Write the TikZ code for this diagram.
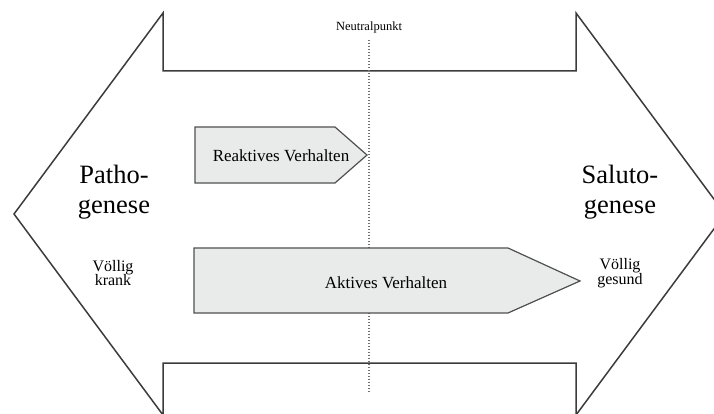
\documentclass[tikz,border=0pt]{standalone}
\usepackage{fontspec}
\setmainfont{Liberation Serif}
\definecolor{edge}{HTML}{3C3C3C}
\definecolor{boxfill}{HTML}{E9EBEB}
\definecolor{dotgray}{HTML}{707070}
\begin{document}
\begin{tikzpicture}[x=1pt,y=-1pt,
  outline/.style={draw=edge,line width=1.5pt,line join=miter},
  pointer/.style={draw=edge!90,fill=boxfill,line width=1.2pt},
  neutral/.style={draw=dotgray,line width=1.3pt,dash pattern=on 1.3pt off 1.7pt},
  bigtext/.style={font=\fontsize{26.5}{30}\selectfont,anchor=base,inner sep=0pt},
  smalltext/.style={font=\fontsize{16}{15}\selectfont,anchor=base,inner sep=0pt},
  labeltext/.style={font=\fontsize{17}{20}\selectfont,anchor=base,inner sep=0pt}]
\useasboundingbox (0,0) rectangle (714,414);
\clip (0,0) rectangle (714,414);

% double-headed arrow between the two poles
\draw[outline,fill=white] (14,214) -- (163,13) -- (163,71) -- (576,71) -- (576,13)
  -- (725,214) -- (576,415) -- (576,363) -- (163,363) -- (163,415) -- cycle;

% neutral point
\node[font=\fontsize{12.5}{14}\selectfont,anchor=base,inner sep=0pt] (np) at (369,31) {Neutralpunkt};
\coordinate (npend) at (369,393);
\draw[neutral] (369,40) -- (npend);

% behaviour pointers
\draw[pointer] (195,127) -- (335,127) -- (367,155) -- (335,183) -- (195,183) -- cycle;
\node[labeltext] (reakt) at (281,161) {Reaktives Verhalten};
\draw[pointer] (194,248) -- (508,248) -- (580,281) -- (508,313) -- (194,313) -- cycle;
\node[labeltext] (akt) at (386,288) {Aktives Verhalten};

% left pole
\node[bigtext] (patho1) at (114,183) {Patho-};
\node[bigtext] (patho2) at (114,213) {genese};
\node[smalltext] (krank1) at (113,271) {Völlig};
\node[smalltext] (krank2) at (113,285.5) {krank};

% right pole
\node[bigtext] (saluto1) at (620,183) {Saluto-};
\node[bigtext] (saluto2) at (620,213) {genese};
\node[smalltext] (gesund1) at (620,269) {Völlig};
\node[smalltext] (gesund2) at (620,284) {gesund};
\end{tikzpicture}
\end{document}
